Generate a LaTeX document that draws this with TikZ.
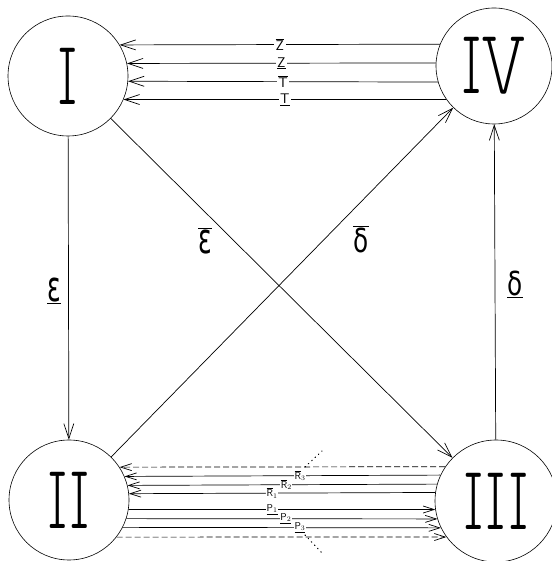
\documentclass[tikz,border=0pt]{standalone}
\usepackage{graphicx}
\usepackage{fontspec}
\newfontfamily\numfont{lmmonoproplt10-regular.otf}
\newfontfamily\greekfont{DejaVu Sans}
\usetikzlibrary{arrows.meta}

\newcommand{\bignum}[1]{\scalebox{0.64}[1]{\fontsize{92}{92}\numfont #1}}
\newcommand{\biggreek}[3]{\scalebox{#1}[1]{\fontsize{#2}{#2}\greekfont #3}}

\begin{document}
\begin{tikzpicture}[
    x=1pt, y=1pt,
    >={Straight Barb[length=15pt,width=10pt]},
    state/.style={
        draw,
        circle,
        line width=0.6pt,
        minimum size=120pt,
        inner sep=0pt
    },
    arrow/.style={
        ->,
        line width=0.7pt
    },
    thinarrow/.style={
        line width=0.7pt,
        -{Straight Barb[length=11pt,width=7pt]}
    },
    dasharrow/.style={
        thinarrow,
        dash pattern=on 6pt off 3pt
    },
    lab/.style={
        fill=white,
        inner sep=1.5pt,
        font=\fontsize{14}{16}\selectfont
    },
    sublab/.style={
        fill=white,
        inner sep=0.5pt,
        font=\fontsize{10}{11}\selectfont
    },
    dots/.style={
        line width=1.1pt,
        dash pattern=on 0.6pt off 4pt,
        line cap=round
    }
]

\useasboundingbox (0,0) rectangle (551,561);

% 1. States
\node[state] (I) at (68,485) {\bignum{I}};
\node[state, minimum size=116pt] (IV) at (494,495) {\bignum{IV}};
\node[state] (II) at (69,61) {\bignum{II}};
\node[state, minimum size=122pt] (III) at (496,60) {\bignum{III}};

% 2. Single transitions
\draw[arrow] (I) -- (II);
\draw[arrow] (III) -- (IV);
\draw[arrow] (I) -- (III);
\draw[arrow] (II) -- (IV);

\node (eps) at (54,270) {\biggreek{0.6}{42}{$\underline{\hbox{ε}}$}};
\node (epsbar) at (205,320) {\biggreek{0.6}{42}{$\overline{\hbox{ε}}$}};
\node (delbar) at (361,322) {\biggreek{0.75}{33}{$\overline{\hbox{δ}}$}};
\node (del) at (515,277) {\biggreek{0.75}{33}{$\underline{\hbox{δ}}$}};

% 3. Bundle from IV to I
\draw[arrow] (IV.158.8) -- node[lab] {$\overline{\mathsf{Z}}$} (I.31.1);
\draw[arrow] (IV.177) -- node[lab] {$\underline{\mathsf{Z}}$} (I.12.5);
\draw[arrow] (IV.196) -- node[lab] {$\overline{\mathsf{T}}$} (I.-5.7);
\draw[arrow] (IV.215.9) -- node[lab] {$\underline{\mathsf{T}}$} (I.-23.6);

% 4. Bundle between II and III
\draw[dasharrow] (III.146.1) -- (II.33.4);
\draw[thinarrow] (III.155.8) -- node[sublab, pos=0.444] {$\overline{\mathsf{R}}_3$} (II.23.6);
\draw[thinarrow] (III.164.8) -- node[sublab, pos=0.487] {$\overline{\mathsf{R}}_2$} (II.14.5);
\draw[thinarrow] (III.172.5) -- node[sublab, pos=0.533] {$\overline{\mathsf{R}}_1$} (II.6.7);
\draw[thinarrow] (II.-9.6) -- node[sublab, pos=0.468] {$\underline{\mathsf{P}_1}$} (III.188.5);
\draw[thinarrow] (II.-18.5) -- node[sublab, pos=0.513] {$\underline{\mathsf{P}_2}$} (III.197.2);
\draw[thinarrow] (II.-27.8) -- node[sublab, pos=0.557] {$\underline{\mathsf{P}_3}$} (III.206.3);
\draw[dasharrow] (II.-38.1) -- (III.216.2);

\coordinate (dt1) at (305,94);
\coordinate (dt2) at (322,110);
\coordinate (db1) at (305,26);
\coordinate (db2) at (322,8);
\draw[dots] (dt1) -- (dt2);
\draw[dots] (db1) -- (db2);

\end{tikzpicture}
\end{document}
